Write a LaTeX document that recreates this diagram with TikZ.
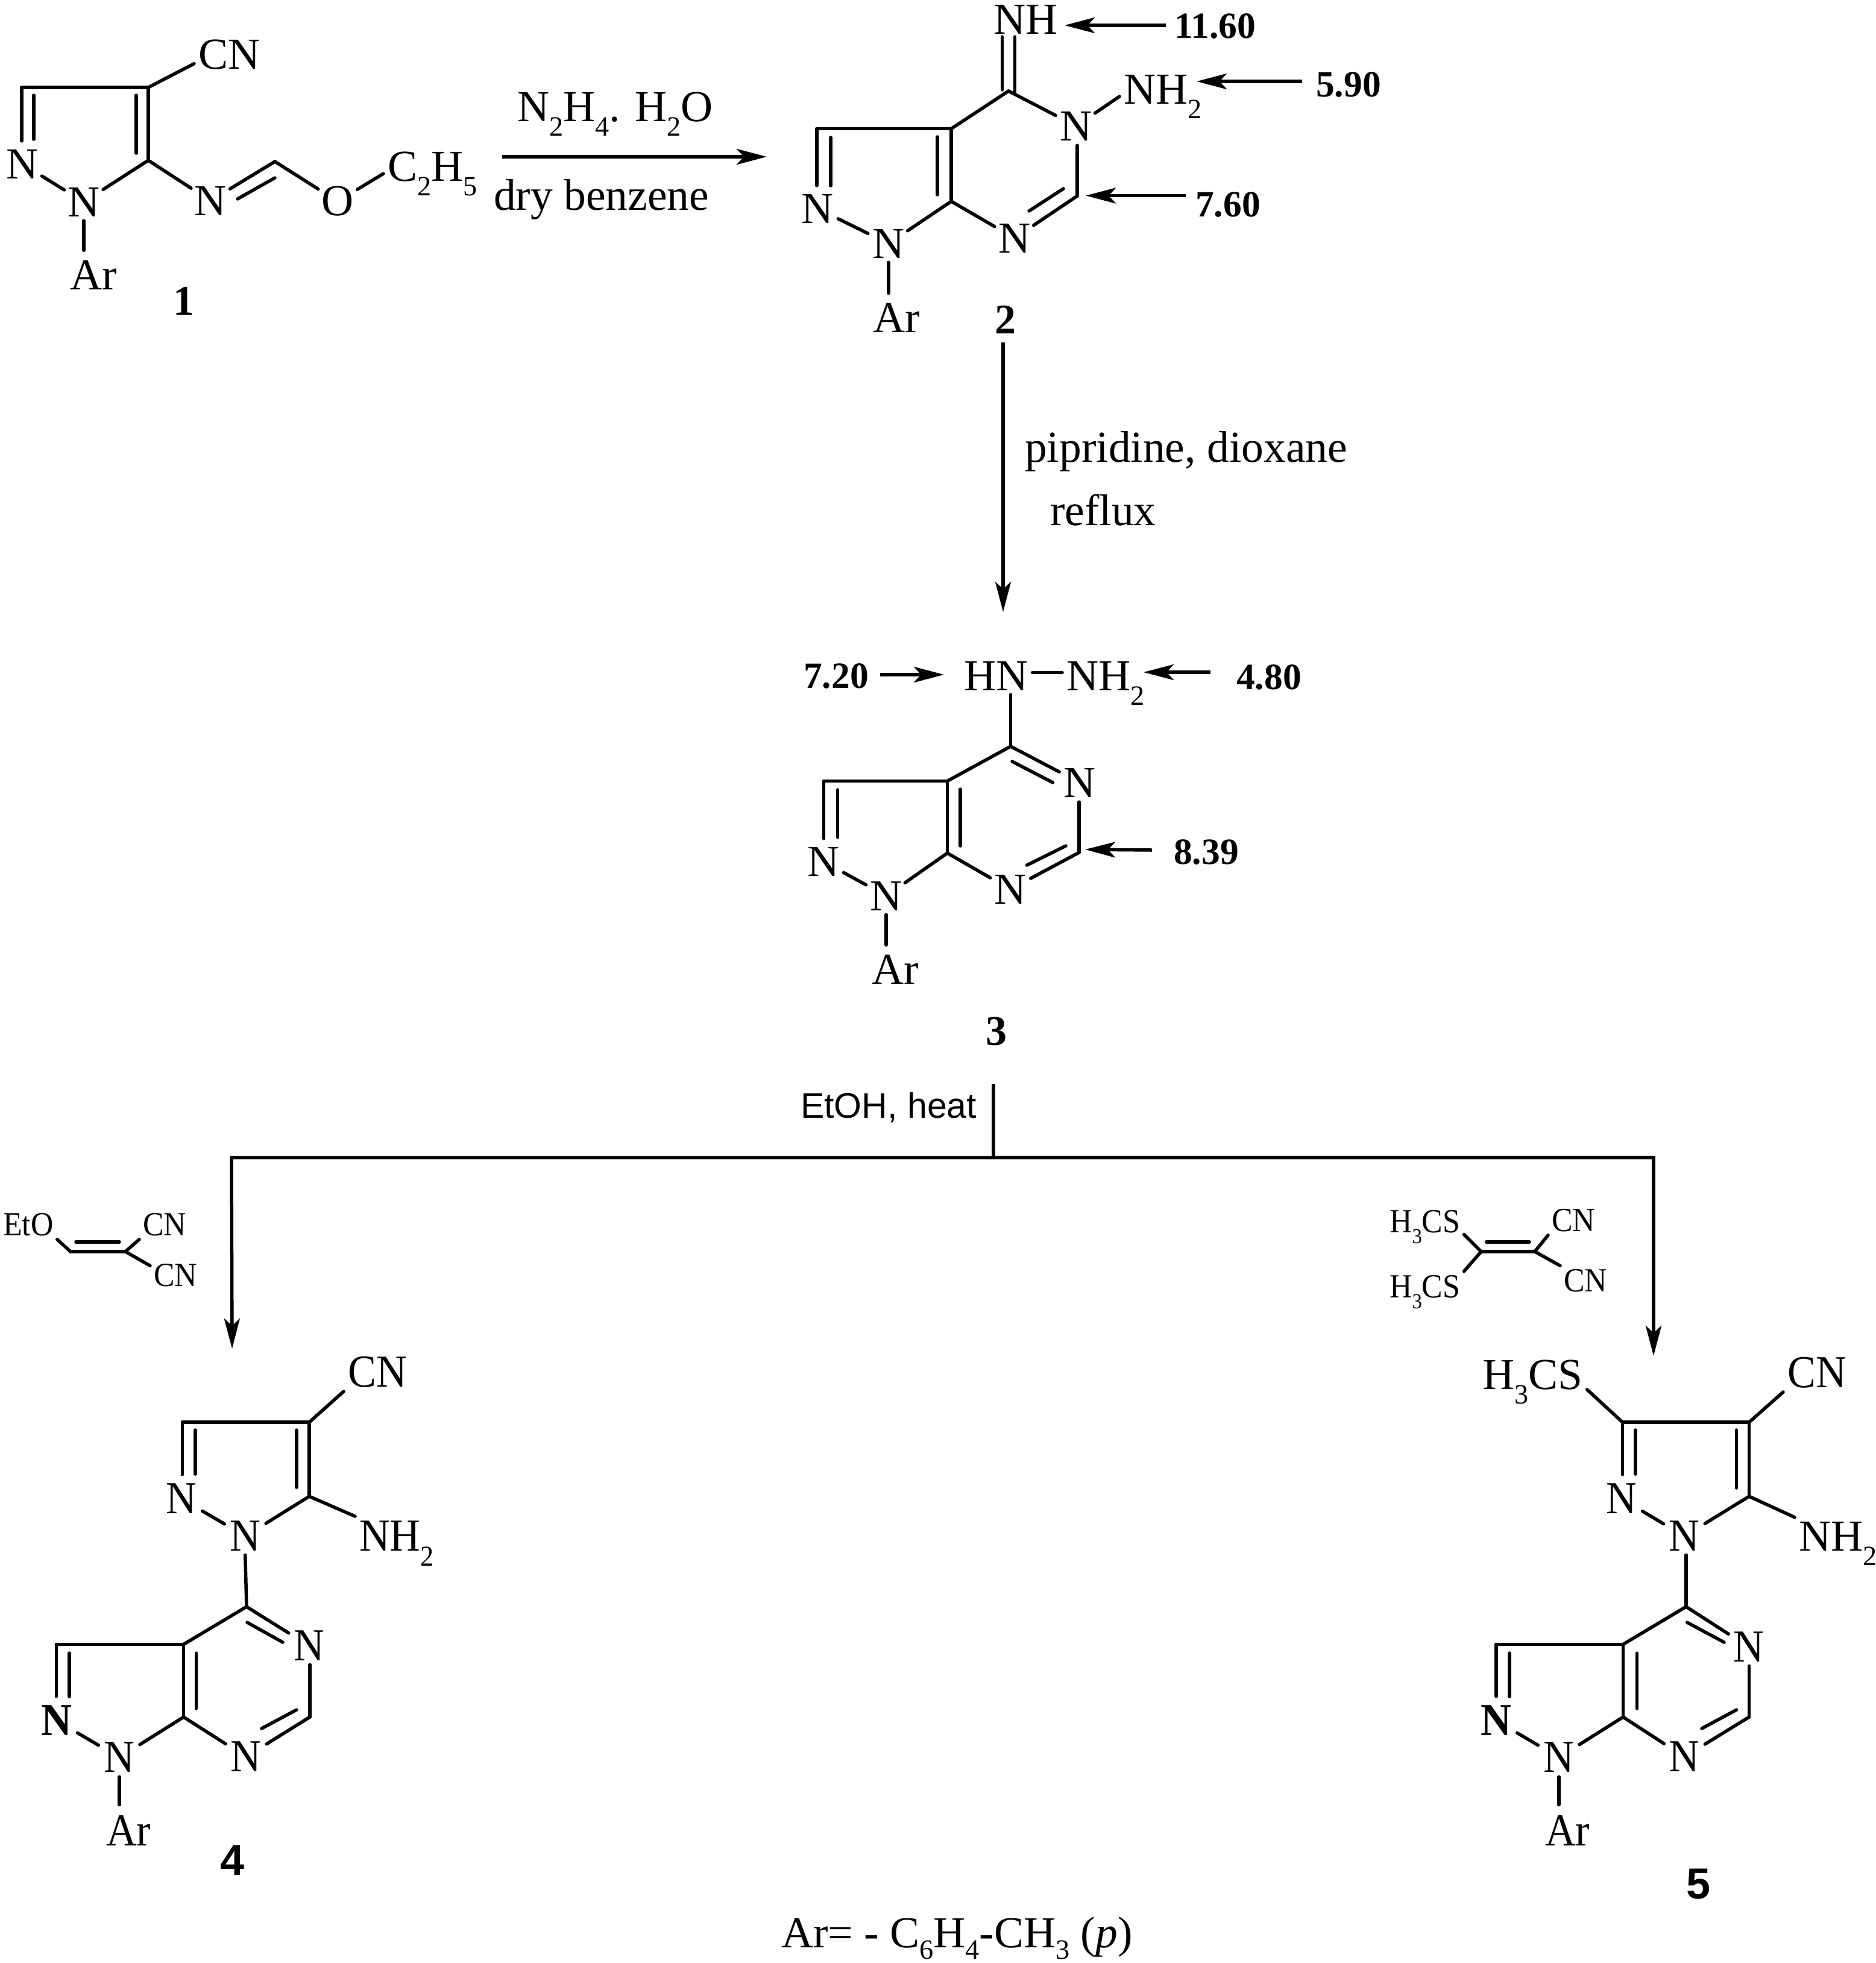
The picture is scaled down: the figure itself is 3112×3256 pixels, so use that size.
\documentclass[tikz,border=0pt]{standalone}
\usepackage{fontspec}
\usetikzlibrary{arrows.meta,calc}
\newfontfamily\ufont{Liberation Serif}
\newfontfamily\lfont[FakeStretch=0.925]{Liberation Serif}
\newfontfamily\afont{Liberation Sans}
\newcommand\sbs[1]{\raisebox{-.33em}{\scalebox{.63}{#1}}}
\newcommand\sbf[1]{\raisebox{-.27em}{\scalebox{.63}{#1}}}
\newcommand\Uf{\ufont\fontsize{73.5}{80}\selectfont}
\newcommand\Lf{\lfont\fontsize{76}{80}\selectfont}
\newcommand\Sf{\lfont\fontsize{56}{60}\selectfont}
\newcommand\ibond[3]{\coordinate (#1a) at (#2);\coordinate (#1b) at (#3);\draw[bond] (#1a) -- (#1b);}
\tikzset{
  bond/.style={line width=5.5pt,line cap=round},
  rx/.style={line width=5.5pt,line join=miter,-{Stealth[length=50pt,width=26pt,inset=12pt]}},
  plain/.style={line width=5.5pt},
  atomu/.style={circle,inner sep=0pt,minimum size=76pt,font=\Uf},
  atoml/.style={circle,inner sep=0pt,minimum size=80pt,font=\Lf},
  lu/.style={anchor=base west,xshift=-7pt,inner sep=7pt,font=\Uf},
  ll/.style={anchor=base west,xshift=-7pt,inner sep=7pt,font=\Lf},
  ls/.style={anchor=base west,xshift=-6pt,inner sep=6pt,font=\Sf},
  val/.style={anchor=base west,inner sep=0pt,font=\ufont\bfseries\fontsize{61.5}{64}\selectfont},
  num/.style={anchor=base west,inner sep=0pt,font=\ufont\bfseries\fontsize{70}{74}\selectfont},
  nums/.style={anchor=base west,inner sep=0pt,font=\afont\bfseries\fontsize{72}{76}\selectfont},
}
\begin{document}
\begin{tikzpicture}[x=1pt,y=-1pt]
\useasboundingbox (0,0) rectangle (3112,3256);
% ---------- compound 1
\coordinate (a1) at (36,145);\coordinate (a2) at (246,145);\coordinate (a3) at (246,266);\coordinate (a4) at (456,268);
\node[atomu] (n1a) at (37,272) {N};
\node[atomu] (n1b) at (139,335) {N};
\node[atomu] (n1c) at (349,333) {N};
\node[atomu] (o1) at (560,334) {O};
\node[lu] (cn1) at (329,114) {CN};
\node[lu] (et1) at (643,300) {C\sbs{2}H\sbs{5}};
\node[lu] (ar1) at (116,480) {Ar};
\node[num] (l1) at (287,522) {1};
\draw[bond] (a1) -- (a2);
\draw[bond] (a2) -- (a3);
\draw[bond] (a1) -- (a1 |- n1a.north);
\ibond{i1}{56,158}{56,231}
\ibond{i2}{226,158}{226,254}
\draw[bond] (n1a) -- (n1b);
\draw[bond] (a3) -- (n1b);
\draw[bond] (a3) -- (n1c);
\draw[bond] (a2) -- (cn1.195);
\draw[bond] (n1c) -- (a4);
\ibond{i3}{394,330}{456,295}
\draw[bond] (a4) -- (o1);
\draw[bond] (o1) -- (et1.west);
\draw[bond,shorten <=-7pt,shorten >=9pt] (n1b.south) -- (n1b.south |- ar1.north);
% ---------- arrow 1->2
\coordinate (r1s) at (833,260);\coordinate (r1e) at (1272,260);
\draw[rx] (r1s) -- (r1e);
\node[lu] (rg1) at (858,201) {N\sbs{2}H\sbs{4}. H\sbs{2}O};
\node[lu] (rg2) at (819,348) {dry benzene};
% ---------- compound 2
\coordinate (b1) at (1673,151);\coordinate (b2) at (1578,213.5);\coordinate (b3) at (1355,213.5);\coordinate (b4) at (1578,334);\coordinate (b5) at (1787,325);
\node[lu] (nh2a) at (1648,56) {NH};
\node[atomu] (n2a) at (1785,209) {N};
\node[lu] (nh2b) at (1864,172) {NH\sbs{2}};
\node[atomu] (n2b) at (1683,395) {N};
\node[atomu] (n2c) at (1474,404) {N};
\node[atomu] (n2d) at (1356,346) {N};
\node[lu] (ar2) at (1448,551) {Ar};
\node[num] (l2) at (1650,553) {2};
\ibond{i4}{1662.5,61}{1662.5,149}
\ibond{i5}{1683.5,61}{1683.5,153}
\draw[bond] (b1) -- (b2);
\draw[bond] (b2) -- (b3);
\draw[bond] (b2) -- (b4);
\draw[bond] (b3) -- (b3 |- n2d.north);
\ibond{i6}{1378,228}{1378,308}
\ibond{i7}{1555,227}{1555,323}
\draw[bond] (b1) -- (n2a);
\draw[bond] (n2a) -- (nh2b.west);
\draw[bond,shorten <=-6pt] (b5 |- n2a.south) -- (b5);
\draw[bond] (b5) -- (n2b);
\ibond{i8}{1707,350}{1764,313}
\draw[bond] (b4) -- (n2b);
\draw[bond] (b4) -- (n2c);
\draw[bond] (n2d) -- (n2c);
\draw[bond,shorten <=-7pt,shorten >=9pt] (n2c.south) -- (n2c.south |- ar2.north);
\node[val] (v1) at (1948,63) {11.60};
\node[val] (v2) at (2183,160) {5.90};
\node[val] (v3) at (1983,359) {7.60};
\coordinate (v1s) at (1934,42);\coordinate (v1e) at (1766,42);
\coordinate (v2s) at (2160,135);\coordinate (v2e) at (1985,135);
\coordinate (v3s) at (1967,324.5);\coordinate (v3e) at (1801,324.5);
\draw[rx] (v1s) -- (v1e);
\draw[rx] (v2s) -- (v2e);
\draw[rx] (v3s) -- (v3e);
% ---------- arrow 2->3
\coordinate (r2s) at (1664,568);\coordinate (r2e) at (1664,1015);
\draw[rx] (r2s) -- (r2e);
\node[lu] (rg3) at (1700,766) {pipridine, dioxane};
\node[lu] (rg4) at (1742,871) {reflux};
% ---------- compound 3
\coordinate (c1) at (1676.5,1238);\coordinate (c2) at (1571.5,1295.5);\coordinate (c3) at (1366.5,1295.5);\coordinate (c4) at (1571.5,1415);\coordinate (c5) at (1790,1414);
\node[lu] (hn3) at (1599,1145) {HN};
\node[lu] (nh3) at (1769,1145) {NH\sbs{2}};
\node[atomu] (n3a) at (1791,1298) {N};
\node[atomu] (n3b) at (1676,1475) {N};
\node[atomu] (n3c) at (1470,1486) {N};
\node[atomu] (n3d) at (1366,1429) {N};
\node[lu] (ar3) at (1446,1632) {Ar};
\node[num] (l3) at (1635,1733) {3};
\draw[bond] (hn3.5) -- (hn3.5 -| nh3.west);
\draw[bond] (c1 |- hn3.south) -- (c1);
\draw[bond] (c1) -- (c2);
\draw[bond] (c2) -- (c3);
\draw[bond] (c2) -- (c4);
\draw[bond] (c3) -- (c3 |- n3d.north);
\ibond{i9}{1389.5,1310}{1389.5,1389}
\ibond{i10}{1593,1309}{1593,1403}
\draw[bond] (c1) -- (n3a);
\ibond{i11}{1679,1263}{1746.5,1298}
\draw[bond,shorten <=-6pt] (c5 |- n3a.south) -- (c5);
\draw[bond] (c5) -- (n3b);
\ibond{i12}{1703.5,1435}{1768,1403}
\draw[bond] (c4) -- (n3b);
\draw[bond] (c4) -- (n3c);
\draw[bond] (n3d) -- (n3c);
\draw[bond,shorten <=-7pt,shorten >=9pt] (n3c.south) -- (n3c.south |- ar3.north);
\node[val] (v4) at (1333,1141) {7.20};
\node[val] (v5) at (2051,1143) {4.80};
\node[val] (v6) at (1947,1433) {8.39};
\coordinate (v4s) at (1460,1119);\coordinate (v4e) at (1566,1119);
\coordinate (v5s) at (2008,1115);\coordinate (v5e) at (1897,1115);
\coordinate (v6s) at (1911,1410);\coordinate (v6e) at (1800,1409);
\draw[rx] (v4s) -- (v4e);
\draw[rx] (v5s) -- (v5e);
\draw[rx] (v6s) -- (v6e);
% ---------- branch
\node[anchor=base west,inner sep=0pt,font=\afont\fontsize{59}{62}\selectfont] (et) at (1328,1854) {EtOH, heat};
\coordinate (t0) at (1648,1798);\coordinate (t1) at (1648,1920);
\coordinate (jl) at (384,1920);\coordinate (jr) at (2743,1920);
\coordinate (al) at (385,2237);\coordinate (ar) at (2743,2249);
\draw[plain] (t0) -- (t1);
\draw[rx] (t1) -- (jl) -- (al);
\draw[rx] (t1) -- (jr) -- (ar);
% ---------- reagent left
\coordinate (d1) at (117,2076);\coordinate (d2) at (208,2076);
\node[ls] (eto) at (5,2049) {EtO};
\node[ls] (cna) at (237,2049) {CN};
\node[ls] (cnb) at (255,2133) {CN};
\draw[bond] (eto.south east) -- (d1);
\draw[bond] (d1) -- (d2);
\ibond{i13}{126,2060}{198,2060}
\draw[bond] (d2) -- (cna.south west);
\draw[bond] (d2) -- (cnb.160);
% ---------- reagent right
\coordinate (g1) at (2457,2076);\coordinate (g2) at (2546,2076);
\node[ls] (sa) at (2305,2044) {H\sbs{3}CS};
\node[ls] (sb) at (2305,2152) {H\sbs{3}CS};
\node[ls] (cnc) at (2574,2042) {CN};
\node[ls] (cnd) at (2594,2142) {CN};
\draw[bond] (sa.-11) -- (g1);
\draw[bond] (sb.north east) -- (g1);
\draw[bond] (g1) -- (g2);
\ibond{i14}{2465.5,2060}{2537,2060}
\draw[bond] (g2) -- (cnc.south west);
\draw[bond] (g2) -- (cnd.150);
% ---------- compound 4
\coordinate (e1) at (302.5,2359);\coordinate (e2) at (513,2359);\coordinate (e3) at (513,2482);
\coordinate (f1) at (409,2665);\coordinate (f2) at (304.6,2727.4);\coordinate (f3) at (93.4,2727.4);\coordinate (f4) at (304.6,2848);\coordinate (f5) at (514,2848);
\node[ll] (cn4) at (577,2300) {CN};
\node[atoml] (n4a) at (301,2486) {N};
\node[atoml] (n4b) at (407,2548) {N};
\node[ll] (nh4) at (596,2572) {NH\sbs{2}};
\node[atoml] (n4c) at (513,2730) {N};
\node[atoml] (n4d) at (408,2914) {N};
\node[atoml] (n4e) at (198,2915) {N};
\node[atoml,font=\Lf\bfseries] (n4f) at (94,2854) {N};
\node[ll] (ar4) at (176,3061) {Ar};
\node[nums] (l4) at (365,3110) {4};
\draw[bond] (e1) -- (e2);
\draw[bond] (e2) -- (e3);
\draw[bond] (e2) -- (cn4.south west);
\draw[bond] (e1) -- (e1 |- n4a.north);
\ibond{i15}{324,2372}{324,2445}
\ibond{i16}{492,2372}{492,2467}
\draw[bond] (n4a) -- (n4b);
\draw[bond] (e3) -- (n4b);
\draw[bond] (e3) -- (nh4.north west);
\draw[bond,shorten <=-9pt] (n4b.south) -- (f1);
\draw[bond] (f1) -- (f2);
\draw[bond] (f2) -- (f3);
\draw[bond] (f2) -- (f4);
\draw[bond] (f1) -- (n4c);
\ibond{i17}{410,2691}{469,2724}
\draw[bond,shorten <=-9pt] (f5 |- n4c.south) -- (f5);
\draw[bond] (f5) -- (n4d);
\ibond{i18}{434,2867}{492,2836}
\draw[bond] (f4) -- (n4d);
\draw[bond] (f4) -- (n4e);
\draw[bond] (n4f) -- (n4e);
\draw[bond] (f3) -- (f3 |- n4f.north);
\ibond{i19}{115,2742}{115,2814}
\ibond{i20}{325.5,2742}{325.5,2834}
\draw[bond,shorten <=-8pt,shorten >=10pt] (n4e.south) -- (n4e.south |- ar4.north);
% ---------- compound 5
\coordinate (h1) at (2691.5,2359);\coordinate (h2) at (2901.5,2359);\coordinate (h3) at (2901.5,2482);
\coordinate (i1) at (2797,2665);\coordinate (i2) at (2692.5,2727.4);\coordinate (i3) at (2482,2727.4);\coordinate (i4) at (2692.5,2848);\coordinate (i5) at (2901.5,2848);
\node[lu] (tms) at (2459,2304) {H\sbs{3}CS};
\node[ll] (cn5) at (2965,2301) {CN};
\node[atoml] (n5a) at (2690,2486) {N};
\node[atoml] (n5b) at (2794,2548) {N};
\node[lu] (nh5) at (2984,2572) {NH\sbs{2}};
\node[atoml] (n5c) at (2901,2732) {N};
\node[atoml] (n5d) at (2794,2914) {N};
\node[atoml] (n5e) at (2586,2915) {N};
\node[atoml,font=\Lf\bfseries] (n5f) at (2482,2854) {N};
\node[ll] (ar5) at (2563,3061) {Ar};
\node[nums] (l5) at (2797,3149) {5};
\draw[bond] (tms.-8) -- (h1);
\draw[bond] (h1) -- (h2);
\draw[bond] (h2) -- (h3);
\draw[bond] (h2) -- (cn5.south west);
\draw[bond] (h1) -- (h1 |- n5a.north);
\ibond{j1}{2713,2372}{2713,2445}
\ibond{j2}{2880.6,2372}{2880.6,2468}
\draw[bond] (n5a) -- (n5b);
\draw[bond] (h3) -- (n5b);
\draw[bond] (h3) -- (nh5.north west);
\draw[bond,shorten <=-9pt] (i1 |- n5b.south) -- (i1);
\draw[bond] (i1) -- (i2);
\draw[bond] (i2) -- (i3);
\draw[bond] (i2) -- (i4);
\draw[bond] (i1) -- (n5c);
\ibond{j3}{2798.6,2691}{2860,2724}
\draw[bond,shorten <=-9pt] (i5 |- n5c.south) -- (i5);
\draw[bond] (i5) -- (n5d);
\ibond{j4}{2823,2867}{2880.6,2836}
\draw[bond] (i4) -- (n5d);
\draw[bond] (i4) -- (n5e);
\draw[bond] (n5f) -- (n5e);
\draw[bond] (i3) -- (i3 |- n5f.north);
\ibond{j5}{2504,2742}{2504,2814}
\ibond{j6}{2715.6,2742}{2715.6,2834}
\draw[bond,shorten <=-8pt,shorten >=10pt] (n5e.south) -- (n5e.south |- ar5.north);
% ---------- footnote
\node[anchor=base west,inner sep=0pt,font=\Uf] (foot) at (1296,3230) {Ar= - C\sbf{6}H\sbf{4}-CH\sbf{3} (\textit{p})};
\end{tikzpicture}
\end{document}
